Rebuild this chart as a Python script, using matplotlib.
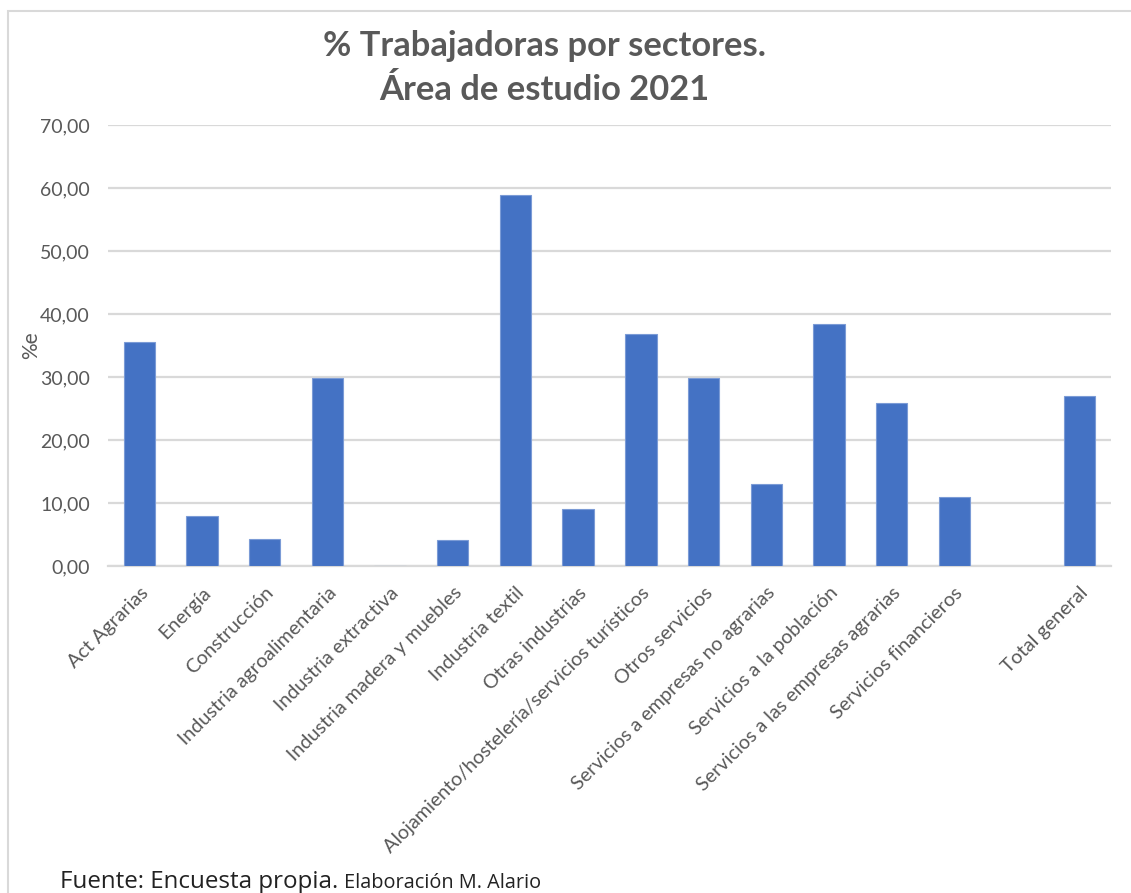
import numpy as np
import matplotlib
matplotlib.use('Agg')
from matplotlib import pyplot as plt
from matplotlib.patches import Rectangle

# Porcentaje de trabajadoras por sector (la posición vacía separa el total)
sectores = ['Act Agrarias', 'Energía', 'Construcción', 'Industria agroalimentaria',
            'Industria extractiva', 'Industria madera y muebles', 'Industria textil',
            'Otras industrias', 'Alojamiento/hostelería/servicios turísticos',
            'Otros servicios', 'Servicios a empresas no agrarias',
            'Servicios a la población', 'Servicios a las empresas agrarias',
            'Servicios financieros', '', 'Total general']
porcentajes = [35.6, 8.0, 4.3, 29.9, 0.0, 4.2, 58.9, 9.0, 36.8, 29.8, 13.0,
               38.4, 25.9, 11.0, np.nan, 27.0]
marcas_y = [0, 10, 20, 30, 40, 50, 60, 70]

gris = '#595959'
plt.rcParams['font.family'] = ['Lato', 'DejaVu Sans']

fig = plt.figure(figsize=(11.31, 8.93), dpi=100)
ax = fig.add_axes([0.0955, 0.3662, 0.8868, 0.4938])

x = np.arange(len(sectores))
ax.bar(x, porcentajes, width=0.5, color='#4472C4', edgecolor='#7B9BD6',
       linewidth=0.8, zorder=3)

ax.set_xlim(-0.5, len(sectores) - 0.5)
ax.set_ylim(0, 70)
ax.set_yticks(marcas_y)
ax.set_yticklabels(['{:.2f}'.format(v).replace('.', ',') for v in marcas_y],
                   fontsize=14, color=gris)
ax.set_xticks(x)
ax.set_xticklabels(sectores, rotation=45, ha='right', va='top',
                   rotation_mode='anchor', fontsize=14.2, color=gris)
ax.tick_params(axis='y', length=0, pad=13)
ax.tick_params(axis='x', length=0, pad=13)

ax.grid(axis='y', color='#D9D9D9', linewidth=1.6, zorder=0)
for lado in ['top', 'right', 'left']:
    ax.spines[lado].set_visible(False)
ax.spines['bottom'].set_color('#D9D9D9')
ax.spines['bottom'].set_linewidth(1.6)

ax.set_ylabel('%e', fontsize=15, color=gris)
ax.yaxis.set_label_coords(-0.067, 0.5)

fig.text(0.481, 0.948, '% Trabajadoras por sectores.', ha='center', va='center',
         fontsize=24.8, fontweight='bold', color=gris)
fig.text(0.481, 0.899, 'Área de estudio 2021', ha='center', va='center',
         fontsize=24.8, fontweight='bold', color=gris)

# pie de fuente con dos tamaños
t1 = fig.text(0.053, 0.006, 'Fuente: Encuesta propia. ', fontsize=17.4,
              color='#222222', family=['Open Sans', 'DejaVu Sans'])
fig.canvas.draw()
bb = t1.get_window_extent()
fig.text(bb.x1 / fig.bbox.width, 0.006, 'Elaboración M. Alario', fontsize=14.3,
         color='#222222', family=['Open Sans', 'DejaVu Sans'])

# marco del gráfico
fig.patches.append(Rectangle((7.5 / 1131, -0.1), 1.2, 1.1 - 11.5 / 893,
                             transform=fig.transFigure, fill=False,
                             edgecolor='#D9D9D9', linewidth=1.5))

fig.savefig('out.png', dpi=100)
